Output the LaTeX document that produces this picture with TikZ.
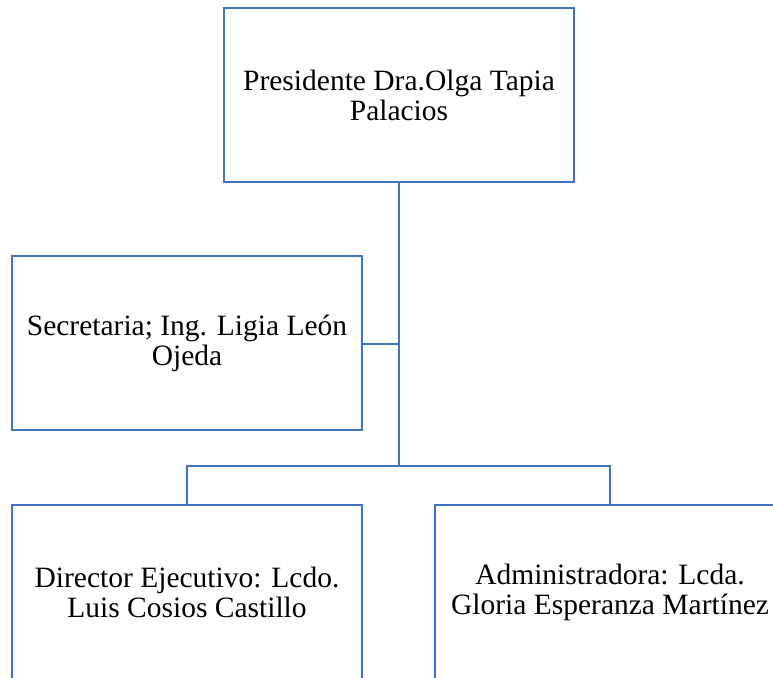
\documentclass[tikz,border=0pt]{standalone}
\usepackage{fontspec}
\setmainfont{Liberation Serif}
\definecolor{boxblue}{HTML}{4472C4}
\tikzset{
  orgbox/.style={draw=boxblue, line width=2.5pt, rectangle, minimum width=350pt, minimum height=174pt, align=center, inner sep=0pt, font=\fontsize{29.5}{30}\selectfont},
  link/.style={draw=boxblue, line width=2.5pt}
}
\begin{document}
\begin{tikzpicture}[x=1pt,y=-1pt]
\useasboundingbox (0,0) rectangle (773,677);
\node[orgbox] (pres) at (399,95) {Presidente Dra.Olga Tapia\\Palacios};
\node[orgbox] (sec) at (187,343) {Secretaria; Ing. Ligia León\\Ojeda};
\node[orgbox] (dir) at (187,592) {Director Ejecutivo: Lcdo.\\Luis Cosios Castillo};
\node[orgbox] (adm) at (610,592) {Administradora: Lcda.\\Gloria Esperanza Martínez};
\coordinate (bar) at (399,466);
\coordinate (join) at (399,344);
\draw[link] (pres.south) -- (bar);
\draw[link] (sec.east |- join) -- (join);
\draw[link] (dir.north) |- (bar) -| (adm.north);
\end{tikzpicture}
\end{document}
